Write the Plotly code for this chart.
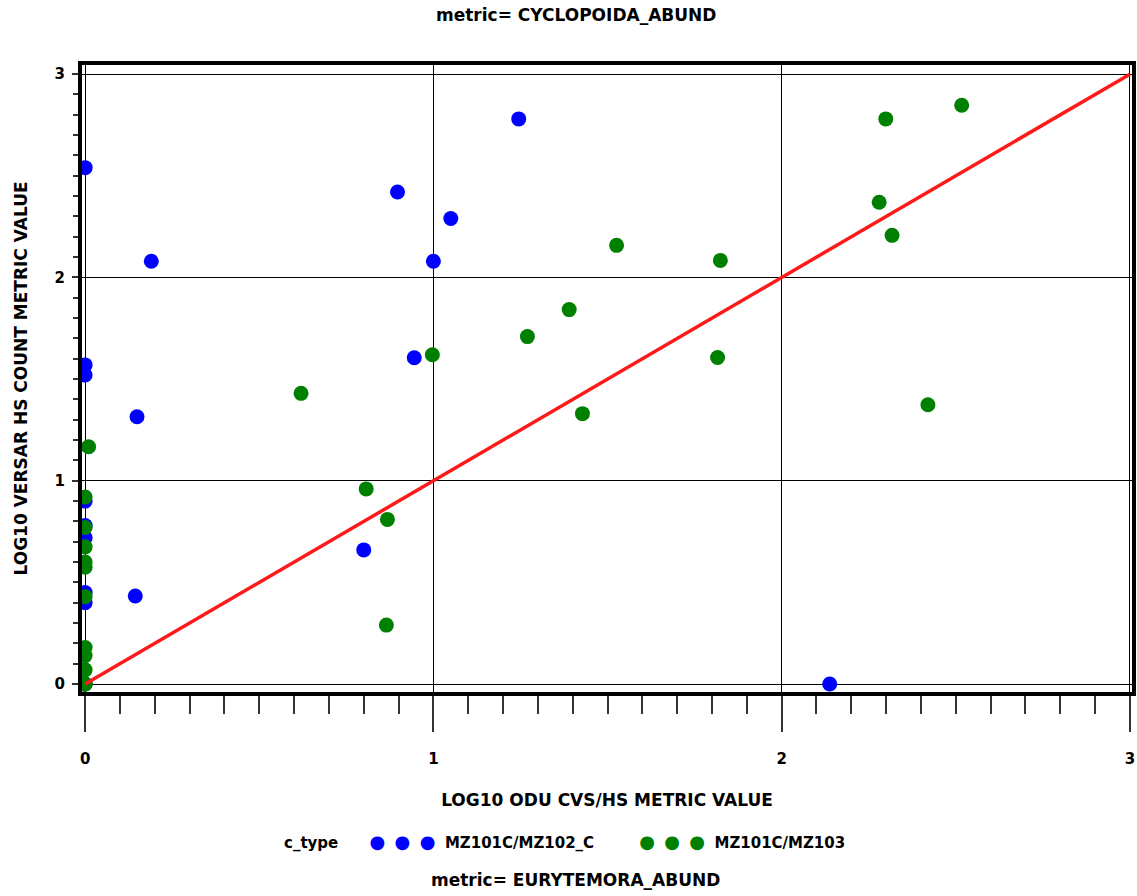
import plotly.graph_objects as go

# ---- data ----
blue_name = "MZ101C/MZ102_C"
blue_x = [0.0, 0.19, 1.245, 0.897, 1.05, 1.0, 0.945, 0.0, 0.0, 0.149, 0.144, 0.80, 2.138,
          0.0, 0.0, 0.0, 0.0, 0.0, 0.0]
blue_y = [2.54, 2.08, 2.78, 2.42, 2.29, 2.08, 1.605, 1.57, 1.52, 1.315, 0.433, 0.66, 0.0,
          0.90, 0.78, 0.72, 0.45, 0.40, 0.0]

green_name = "MZ101C/MZ103"
green_x = [2.517, 2.299, 2.28, 2.317, 2.42, 1.526, 1.824, 1.816, 1.39, 1.27, 1.428, 0.997,
           0.62, 0.807, 0.868, 0.865,
           0.01, 0.0, 0.0, 0.0, 0.0, 0.0, 0.0, 0.0, 0.0, 0.0, 0.0, 0.0]
green_y = [2.847, 2.78, 2.37, 2.207, 1.374, 2.158, 2.084, 1.606, 1.842, 1.709, 1.33, 1.62,
           1.43, 0.96, 0.81, 0.29,
           1.167, 0.92, 0.77, 0.675, 0.60, 0.575, 0.43, 0.18, 0.14, 0.07, 0.0, 0.0]

ref_x = [0, 3]
ref_y = [0, 3]

top_title = "metric= CYCLOPOIDA_ABUND"
bottom_title = "metric= EURYTEMORA_ABUND"
x_title = "LOG10 ODU CVS/HS METRIC VALUE"
y_title = "LOG10 VERSAR HS COUNT METRIC VALUE"
legend_title = "c_type"
tick_vals = [0, 1, 2, 3]

FONT = "DejaVu Sans"
BLUE = "#0000ff"
GREEN = "#008000"
NB = "\u00a0"
THIN = "\u2009"


def legend_label(name, color, tail=""):
    dots = (NB + THIN).join(["\u25CF"] * 3)
    return ('<span style="color:%s;font-size:18px">%s</span>%s<b>%s</b>%s'
            % (color, dots, NB * 2, name, tail))


fig = go.Figure()
fig.add_trace(go.Scatter(x=blue_x, y=blue_y, mode="markers", name=blue_name,
                         showlegend=False,
                         marker=dict(color=BLUE, size=15, line=dict(width=0))))
fig.add_trace(go.Scatter(x=green_x, y=green_y, mode="markers", name=green_name,
                         showlegend=False,
                         marker=dict(color=GREEN, size=15, line=dict(width=0))))
fig.add_trace(go.Scatter(x=ref_x, y=ref_y, mode="lines", showlegend=False,
                         line=dict(color="#ff1a1a", width=3.5)))
# legend entries (symbols drawn as text, SAS style)
fig.add_trace(go.Scatter(x=[None], y=[None], mode="none",
                         name=legend_label(blue_name, BLUE), showlegend=True))
fig.add_trace(go.Scatter(x=[None], y=[None], mode="none",
                         name=legend_label(green_name, GREEN), showlegend=True))

axis_common = dict(
    showline=True, linecolor="black", linewidth=4, mirror=True,
    showgrid=True, gridcolor="black", gridwidth=1,
    zeroline=False, automargin=False,
    tickvals=tick_vals,
    ticks="outside", tickcolor="#333333", tickwidth=1.5,
    tickfont=dict(family=FONT, size=15, color="black", weight="bold"),
)

fig.update_layout(
    width=1137, height=896,
    margin=dict(l=82, r=5, t=65, b=204, autoexpand=False),
    paper_bgcolor="white", plot_bgcolor="white",
    font=dict(family=FONT, color="black"),
    xaxis=dict(range=[-0.009, 3.006], ticklen=36, ticklabelstandoff=14,
               minor=dict(dtick=0.1, ticks="outside", ticklen=18, tickcolor="#333333",
                          tickwidth=1.5, showgrid=False),
               title=dict(text="<b>" + x_title + "</b>", standoff=28,
                          font=dict(family=FONT, size=17)),
               **axis_common),
    yaxis=dict(range=[-0.039, 3.045], ticklen=6, ticklabelstandoff=4,
               minor=dict(dtick=0.1, ticks="outside", ticklen=5, tickcolor="#333333",
                          tickwidth=1.5, showgrid=False),
               title=dict(text="<b>" + y_title + "</b>", standoff=24,
                          font=dict(family=FONT, size=17)),
               **axis_common),
    showlegend=True,
    legend=dict(orientation="h", x=0.2358, xanchor="left", y=-0.24, yanchor="middle",
                font=dict(family=FONT, size=15), itemwidth=30,
                bgcolor="rgba(0,0,0,0)"),
)

fig.add_annotation(text="<b>" + legend_title + "</b>", xref="paper", yref="paper",
                   x=(311 - 82) / 1050, xanchor="center", y=0, yanchor="middle",
                   yshift=-151, showarrow=False, font=dict(family=FONT, size=15))
fig.add_annotation(text="<b>" + top_title + "</b>", xref="paper", yref="paper",
                   x=0.47, y=1, yanchor="middle", yshift=50, showarrow=False,
                   font=dict(family=FONT, size=17))
fig.add_annotation(text="<b>" + bottom_title + "</b>", xref="paper", yref="paper",
                   x=0.47, y=0, yanchor="middle", yshift=-188, showarrow=False,
                   font=dict(family=FONT, size=17))

fig.write_html("out.html", config={"displayModeBar": False},
               post_script="document.body.style.margin='0';")
